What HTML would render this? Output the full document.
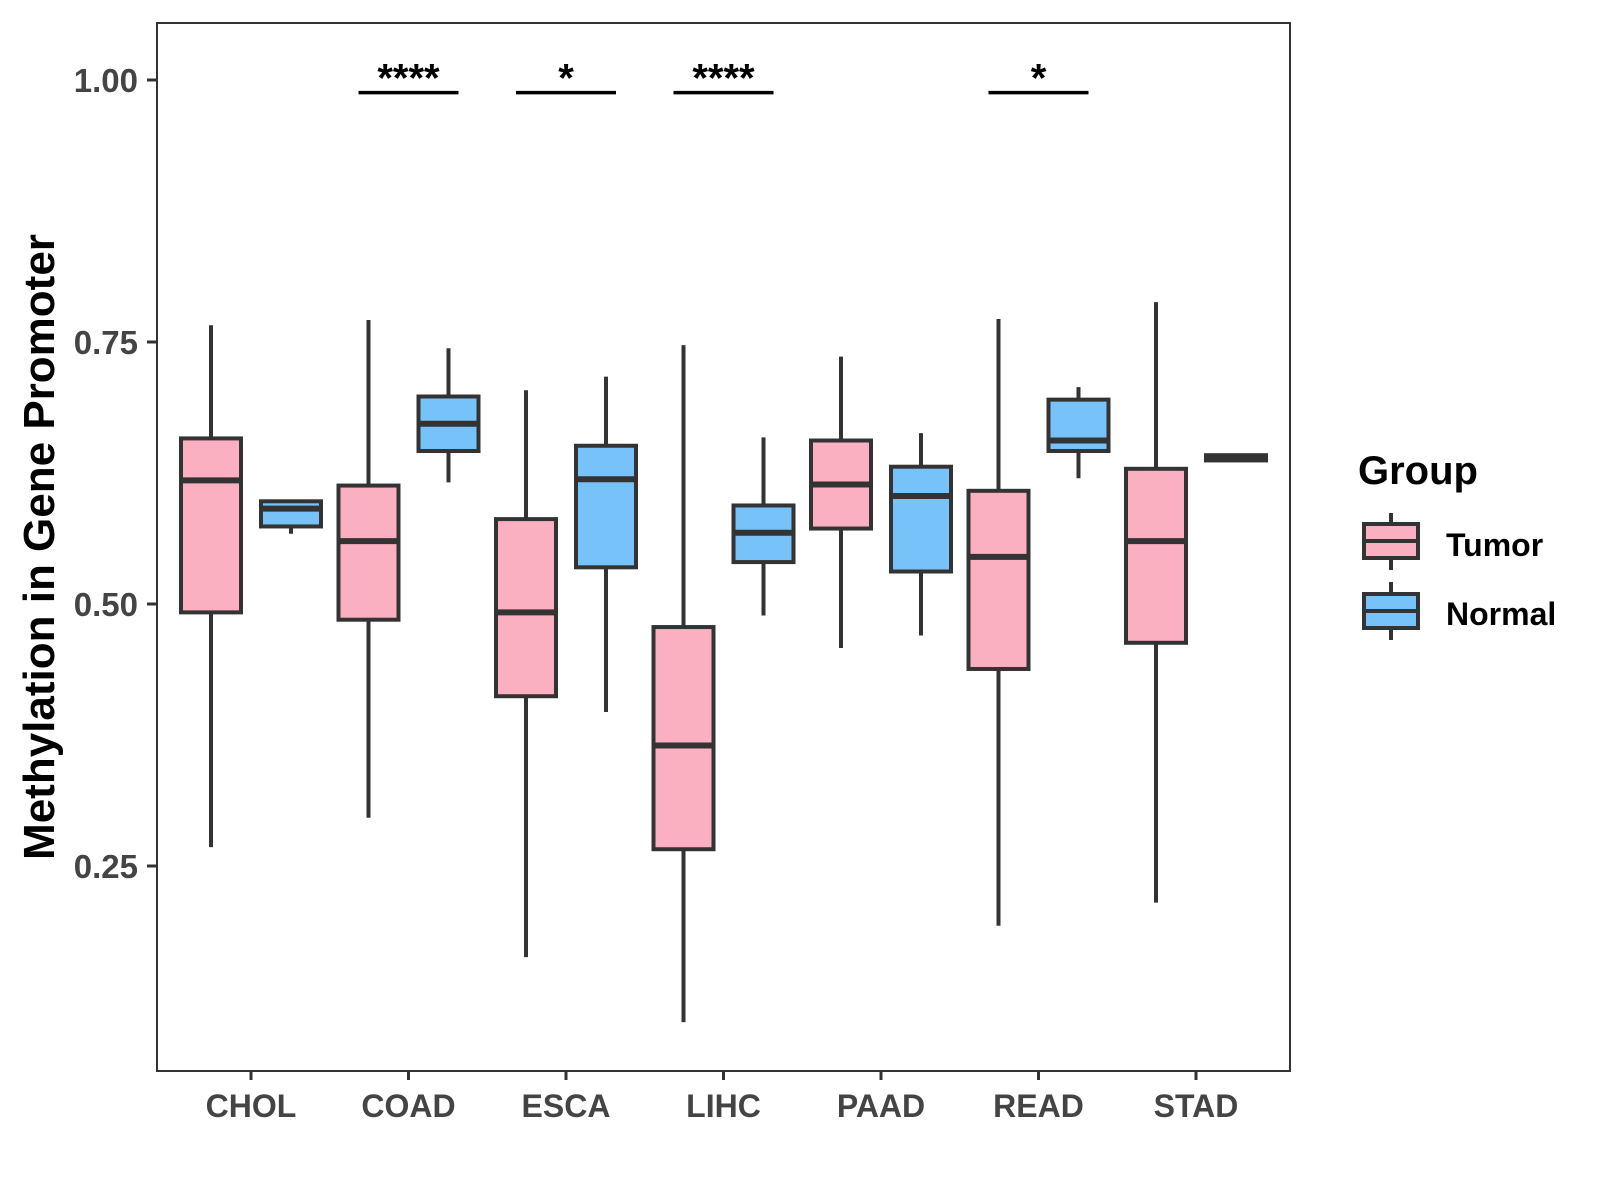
<!DOCTYPE html>
<html><head><meta charset="utf-8"><style>
html,body{margin:0;padding:0;background:#fff;}
svg{display:block;font-family:"Liberation Sans",Arial,sans-serif;}
</style></head><body>
<svg id="chart" width="1600" height="1200" viewBox="0 0 1600 1200">
<rect x="157" y="23" width="1133" height="1048" fill="#fff" stroke="#333" stroke-width="2"/>
<g id="marks"></g>
<g id="axes"></g>
<text transform="translate(54,547) rotate(-90)" text-anchor="middle" font-size="44" font-weight="bold" fill="#000">Methylation in Gene Promoter</text>
<g>
<text x="1358" y="484" font-size="40" font-weight="bold" fill="#000">Group</text>
<g>
<line x1="1391" x2="1391" y1="513" y2="570" stroke="#333" stroke-width="4"/>
<rect x="1364" y="524" width="54" height="34" fill="#FBB0C2" stroke="#333" stroke-width="4"/>
<line x1="1364" x2="1418" y1="541" y2="541" stroke="#333" stroke-width="4"/>
<text x="1446" y="556" font-size="32" font-weight="bold" fill="#000">Tumor</text>
</g>
<g>
<line x1="1391" x2="1391" y1="582" y2="640" stroke="#333" stroke-width="4"/>
<rect x="1364" y="594" width="54" height="34" fill="#77C2F8" stroke="#333" stroke-width="4"/>
<line x1="1364" x2="1418" y1="611" y2="611" stroke="#333" stroke-width="4"/>
<text x="1446" y="625" font-size="32" font-weight="bold" fill="#000">Normal</text>
</g>
</g>
</svg>
<script>
const categories=["CHOL","COAD","ESCA","LIHC","PAAD","READ","STAD"];
// [low whisker, q1, median, q3, high whisker]
const tumorStats=[[0.268,0.492,0.618,0.658,0.766],[0.296,0.485,0.560,0.613,0.771],[0.163,0.412,0.492,0.581,0.704],[0.101,0.266,0.365,0.478,0.747],[0.458,0.572,0.614,0.656,0.736],[0.193,0.438,0.545,0.608,0.772],[0.215,0.463,0.560,0.629,0.788]];
const normalStats=[[0.567,0.574,0.591,0.598,0.599],[0.616,0.646,0.672,0.698,0.744],[0.397,0.535,0.619,0.651,0.717],[0.489,0.540,0.568,0.594,0.659],[0.470,0.531,0.603,0.631,0.663],[0.620,0.646,0.656,0.695,0.707],[0.636,0.637,0.640,0.642,0.643]];
const yTicks=[0.25,0.5,0.75,1.0];
const yTickLabels=["0.25","0.50","0.75","1.00"];
const sigCategories=["COAD","ESCA","LIHC","READ"];
const sigLabels=["****","*","****","*"];
const sigLevel=0.988;

const NS="http://www.w3.org/2000/svg";
function y(v){return 80+(1-v)*1048;}
function x(i){return 251+157.5*i;}
function mk(tag,attrs,parent){const e=document.createElementNS(NS,tag);for(const k in attrs)e.setAttribute(k,attrs[k]);parent.appendChild(e);return e;}
const marks=document.getElementById('marks'),axes=document.getElementById('axes');
function box(cx,s,fill,name){
  const g=mk('g',{},marks);
  
  
  mk('line',{x1:cx,x2:cx,y1:y(s[4]),y2:y(s[0]),stroke:'#333','stroke-width':4},g);
  mk('rect',{x:cx-30,y:y(s[3]),width:60,height:Math.max(1,y(s[1])-y(s[3])),fill:fill,stroke:'#333','stroke-width':4},g);
  mk('line',{x1:cx-30,x2:cx+30,y1:y(s[2]),y2:y(s[2]),stroke:'#333','stroke-width':6},g);
}
categories.forEach((c,i)=>{
  box(x(i)-40,tumorStats[i],'#FBB0C2','box-tumor-'+c.toLowerCase());
  box(x(i)+40,normalStats[i],'#77C2F8','box-normal-'+c.toLowerCase());
  mk('line',{x1:x(i),x2:x(i),y1:1071,y2:1080,stroke:'#333','stroke-width':3},axes);
  const t=mk('text',{x:x(i),y:1117,'text-anchor':'middle','font-size':32,'font-weight':'bold',fill:'#444'},axes);
  t.textContent=c;
  
  
});
yTicks.forEach((v,i)=>{
  mk('line',{x1:147,x2:157,y1:y(v),y2:y(v),stroke:'#333','stroke-width':3},axes);
  const t=mk('text',{x:138,y:y(v)+12,'text-anchor':'end','font-size':33,'font-weight':'bold',fill:'#444'},axes);
  t.textContent=yTickLabels[i];
  
  
});
sigCategories.forEach((c,k)=>{
  const i=categories.indexOf(c);
  const g=mk('g',{},marks);
  
  
  mk('line',{x1:x(i)-50,x2:x(i)+50,y1:y(sigLevel),y2:y(sigLevel),stroke:'#000','stroke-width':3.5},g);
  const t=mk('text',{x:x(i),y:y(sigLevel)-1,'text-anchor':'middle','font-size':40,'font-weight':'bold',fill:'#000'},g);
  t.textContent=sigLabels[k];
});
</script>
</body></html>
